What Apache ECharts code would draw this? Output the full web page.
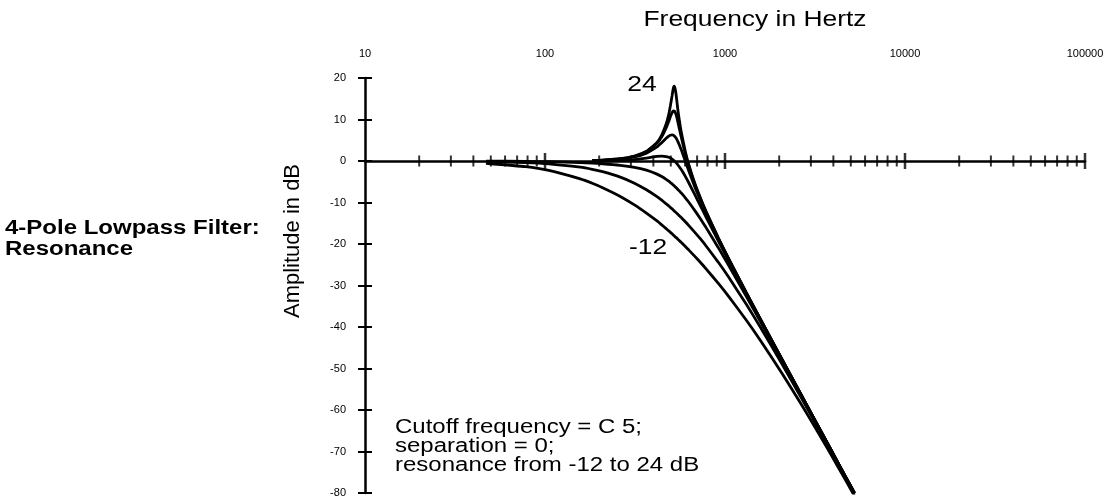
<!DOCTYPE html>
<html>
<head>
<meta charset="utf-8">
<script src="https://cdn.jsdelivr.net/npm/echarts@6/dist/echarts.min.js"></script>
<style>
html,body{margin:0;padding:0;background:#fff;}
#chart{width:1112px;height:500px;}
</style>
</head>
<body>
<div id="chart"></div>
<script>
// Frequencies (Hz) shared by all curves
const freqs = [47, 78, 105, 157, 183, 209, 262, 314, 366, 419, 445, 471, 487, 497, 508, 513, 518, 523, 528, 534, 539, 549, 565, 576, 602, 628, 680, 733, 785, 916, 1047, 1308, 1570, 2093, 2616, 3140, 3663, 4186, 4709, 5233];
// Amplitude (dB) for each resonance setting (-12 ... 24 dB)
const resM12 = [-0.54, -1.38, -2.28, -4.31, -5.37, -6.43, -8.53, -10.57, -12.55, -14.45, -15.38, -16.29, -16.83, -17.19, -17.54, -17.71, -17.89, -18.06, -18.24, -18.41, -18.58, -18.92, -19.43, -19.77, -20.60, -21.41, -22.99, -24.52, -25.99, -29.44, -32.61, -38.26, -43.18, -51.43, -58.19, -63.92, -68.88, -73.24, -77.14, -80.66];
const resM6 = [-0.14, -0.39, -0.68, -1.50, -2.01, -2.58, -3.88, -5.34, -6.93, -8.59, -9.45, -10.31, -10.83, -11.17, -11.52, -11.69, -11.87, -12.04, -12.21, -12.39, -12.56, -12.91, -13.43, -13.78, -14.64, -15.50, -17.19, -18.85, -20.48, -24.35, -27.96, -34.41, -40.00, -49.22, -56.60, -62.73, -67.96, -72.52, -76.55, -80.17];
const res0 = [-0.03, -0.10, -0.17, -0.38, -0.51, -0.66, -1.04, -1.53, -2.22, -3.16, -3.75, -4.43, -4.87, -5.19, -5.51, -5.68, -5.85, -6.02, -6.20, -6.37, -6.55, -6.92, -7.49, -7.87, -8.86, -9.88, -11.95, -14.02, -16.05, -20.82, -25.12, -32.50, -38.63, -48.43, -56.09, -62.37, -67.70, -72.31, -76.39, -80.04];
const res6 = [null, null, null, null, -0.04, -0.01, 0.10, 0.34, 0.71, 1.09, 1.17, 1.07, 0.89, 0.70, 0.46, 0.32, 0.17, 0.00, -0.18, -0.37, -0.58, -1.02, -1.76, -2.29, -3.70, -5.18, -8.13, -10.92, -13.51, -19.18, -23.98, -31.85, -38.21, -48.21, -55.95, -62.28, -67.63, -72.26, -76.35, -80.01];
const res12 = [null, null, null, null, 0.09, 0.16, 0.44, 0.97, 1.90, 3.41, 4.41, 5.47, 6.00, 6.22, 6.30, 6.26, 6.17, 6.02, 5.82, 5.57, 5.27, 4.55, 3.26, 2.33, -0.03, -2.28, -6.24, -9.61, -12.55, -18.66, -23.64, -31.67, -38.10, -48.15, -55.92, -62.25, -67.61, -72.25, -76.34, -80.00];
const res18 = [null, null, null, null, 0.12, 0.21, 0.53, 1.15, 2.26, 4.25, 5.82, 7.97, 9.57, 10.68, 11.64, 11.96, 12.10, 12.04, 11.76, 11.28, 10.65, 9.12, 6.67, 5.12, 1.72, -1.09, -5.61, -9.21, -12.27, -18.51, -23.55, -31.63, -38.07, -48.14, -55.91, -62.25, -67.61, -72.25, -76.34, -80.00];
const res24 = [null, null, null, null, 0.13, 0.22, 0.55, 1.19, 2.35, 4.49, 6.26, 8.91, 11.24, 13.26, 15.69, 16.89, 17.81, 18.06, 17.47, 16.25, 14.77, 11.84, 8.20, 6.23, 2.30, -0.74, -5.43, -9.11, -12.20, -18.48, -23.53, -31.61, -38.06, -48.13, -55.90, -62.25, -67.60, -72.25, -76.34, -80.00];

// Axis tick positions
const xMajorTicks = [100, 1000, 10000, 100000];
const xMinorTicks = [20, 30, 40, 50, 60, 70, 80, 90, 200, 300, 400, 500, 600, 700, 800, 900, 2000, 3000, 4000, 5000, 6000, 7000, 8000, 9000, 20000, 30000, 40000, 50000, 60000, 70000, 80000, 90000];

const curves = [resM12, resM6, res0, res6, res12, res18, res24];
const FONT = "'Liberation Sans', Arial, sans-serif";

const chart = echarts.init(document.getElementById('chart'), null, {renderer: 'canvas'});

const lineSeries = curves.map(c => ({
  type: 'line',
  xAxisIndex: 1,
  yAxisIndex: 0,
  data: freqs.map((f, i) => [f, c[i]]).filter(p => p[1] !== null),
  symbol: 'none',
  smooth: 0.15,
  lineStyle: {color: '#000', width: 2.8},
  silent: true,
  z: 3
}));

const option = {
  animation: false,
  backgroundColor: '#fff',
  grid: {left: 365, right: 27, top: 78, bottom: 7, containLabel: false},
  xAxis: [
    {
      type: 'log', logBase: 10, min: 10, max: 100000, position: 'top',
      axisLine: {show: false}, axisTick: {show: false}, splitLine: {show: false},
      axisLabel: {show: true, color: '#000', fontSize: 11, fontFamily: FONT, margin: 19,
        formatter: v => String(Math.round(v))}
    },
    {
      type: 'log', logBase: 10, min: 10, max: 100000, position: 'bottom',
      axisLine: {show: true, onZero: true, onZeroAxisIndex: 0, lineStyle: {color: '#000', width: 2.5}},
      axisTick: {show: false}, axisLabel: {show: false}, splitLine: {show: false}
    }
  ],
  yAxis: [
    {
      type: 'value', min: -80, max: 20, interval: 10, position: 'left',
      axisLine: {show: true, onZero: false, lineStyle: {color: '#000', width: 2.5}},
      axisTick: {show: true, length: 7, lineStyle: {color: '#000', width: 2}},
      splitLine: {show: false},
      axisLabel: {color: '#000', fontSize: 11, fontFamily: FONT, margin: 19}
    },
    {
      type: 'value', min: -80, max: 20, interval: 10, position: 'left',
      axisLine: {show: false, onZero: false},
      axisTick: {show: true, inside: true, length: 7, lineStyle: {color: '#000', width: 2}},
      axisLabel: {show: false}, splitLine: {show: false}
    }
  ],
  series: [
    ...lineSeries,
    {
      type: 'scatter', xAxisIndex: 1, yAxisIndex: 0, clip: false, silent: true, z: 4,
      symbol: 'rect', symbolSize: [2, 11], itemStyle: {color: '#000'},
      data: xMinorTicks.map(f => [f, 0])
    },
    {
      type: 'scatter', xAxisIndex: 1, yAxisIndex: 0, clip: false, silent: true, z: 4,
      symbol: 'rect', symbolSize: [2.5, 16], itemStyle: {color: '#000'},
      data: xMajorTicks.map(f => [f, 0])
    }
  ],
  graphic: [
    {type: 'text', x: 755, y: 20, scaleX: 1.2, style: {text: 'Frequency in Hertz', fontFamily: FONT, fontSize: 22, fill: '#000', align: 'center', verticalAlign: 'middle'}},
    {type: 'text', x: 293, y: 241, rotation: Math.PI / 2, style: {text: 'Amplitude in dB', fontFamily: FONT, fontSize: 22, fill: '#000', align: 'center', verticalAlign: 'middle'}},
    {type: 'text', x: 5, y: 218, scaleX: 1.2, style: {text: '4-Pole Lowpass Filter:\nResonance', fontFamily: FONT, fontSize: 20, fontWeight: 'bold', fill: '#000', lineHeight: 21, align: 'left', verticalAlign: 'top'}},
    {type: 'text', x: 642, y: 85, scaleX: 1.2, style: {text: '24', fontFamily: FONT, fontSize: 22, fill: '#000', align: 'center', verticalAlign: 'middle'}},
    {type: 'text', x: 648, y: 248, scaleX: 1.2, style: {text: '-12', fontFamily: FONT, fontSize: 22, fill: '#000', align: 'center', verticalAlign: 'middle'}},
    {type: 'text', x: 395, y: 418, scaleX: 1.2, style: {text: 'Cutoff frequency = C 5;\nseparation = 0;\nresonance from -12 to 24 dB', fontFamily: FONT, fontSize: 20, fill: '#000', lineHeight: 19, align: 'left', verticalAlign: 'top'}}
  ]
};
chart.setOption(option);
</script>
</body>
</html>
